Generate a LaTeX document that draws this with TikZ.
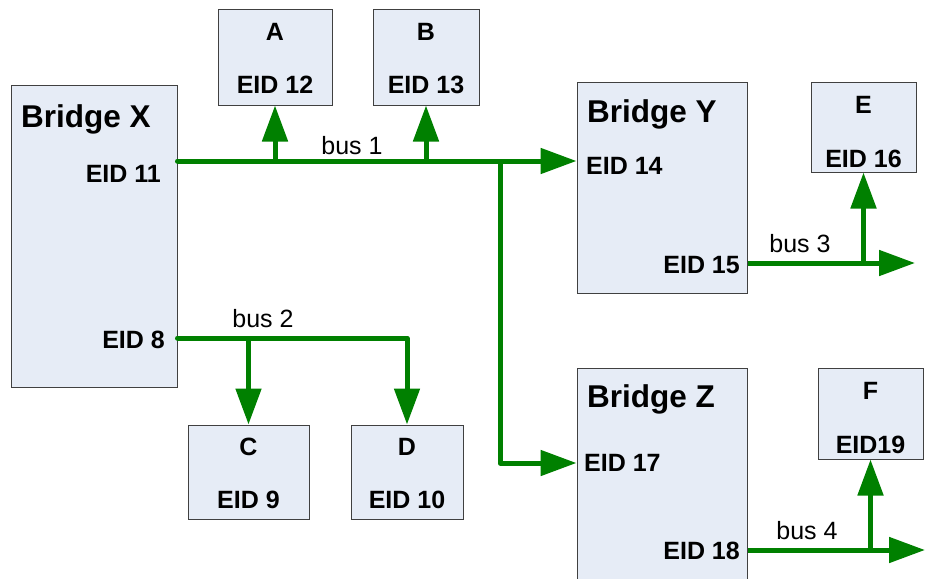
\documentclass[tikz,border=0pt]{standalone}
\usepackage{fontspec}
\setmainfont{Liberation Sans}
\usetikzlibrary{arrows.meta}
\definecolor{busgreen}{RGB}{0,128,0}
\definecolor{boxfill}{RGB}{230,236,246}
\definecolor{boxline}{RGB}{64,64,64}
\tikzset{
  box/.style={draw=boxline, fill=boxfill, line width=1pt, rectangle, inner sep=0pt},
  bus/.style={draw=busgreen, line width=5pt, line join=round},
  busarrow/.style={bus, -{Triangle[length=36pt,width=25pt]}},
  big/.style={font=\fontsize{31.5}{33}\selectfont\bfseries, inner sep=0pt},
  lbl/.style={font=\fontsize{25}{27}\selectfont\bfseries, inner sep=0pt},
  buslbl/.style={font=\fontsize{25}{27}\selectfont, inner sep=0pt}
}
\begin{document}
\begin{tikzpicture}[x=1pt,y=-1pt]
\clip (0,0) rectangle (925,578);
\fill[white] (0,0) rectangle (925,578);
% boxes
\node[box, minimum width=166pt, minimum height=302pt] (bx) at (94,236) {};
\node[box, minimum width=114pt, minimum height=95pt] (A) at (275,57.5) {};
\node[box, minimum width=106pt, minimum height=95pt] (B) at (426,57.5) {};
\node[box, minimum width=170pt, minimum height=211pt] (by) at (662,187.5) {};
\node[box, minimum width=105pt, minimum height=90pt] (E) at (863.5,127) {};
\node[box, minimum width=170pt, minimum height=232pt] (bz) at (662,484) {};
\node[box, minimum width=105pt, minimum height=91pt] (F) at (870.5,413.5) {};
\node[box, minimum width=121pt, minimum height=94pt] (C) at (248.5,472) {};
\node[box, minimum width=112pt, minimum height=94pt] (D) at (407,472) {};
% texts
\node[big, anchor=base west] (tbx) at (21,127) {Bridge X};
\node[lbl, anchor=base east] (t11) at (161,182) {EID 11};
\node[lbl, anchor=base east] (t8) at (165,348) {EID 8};
\node[lbl, anchor=base] (tA) at (275,41) {A};
\node[lbl, anchor=base] (t12) at (275,93) {EID 12};
\node[lbl, anchor=base] (tB) at (426,41) {B};
\node[lbl, anchor=base] (t13) at (426,93) {EID 13};
\node[big, anchor=base west] (tby) at (587,122) {Bridge Y};
\node[lbl, anchor=base west] (t14) at (586,174) {EID 14};
\node[lbl, anchor=base east] (t15) at (740,273) {EID 15};
\node[lbl, anchor=base] (tE) at (863.5,113) {E};
\node[lbl, anchor=base] (t16) at (863.5,167) {EID 16};
\node[big, anchor=base west] (tbz) at (587,407) {Bridge Z};
\node[lbl, anchor=base west] (t17) at (584,471) {EID 17};
\node[lbl, anchor=base east] (t18) at (740,559) {EID 18};
\node[lbl, anchor=base] (tF) at (870.5,399) {F};
\node[lbl, anchor=base] (t19) at (870.5,453) {EID19};
\node[lbl, anchor=base] (tC) at (248.5,455) {C};
\node[lbl, anchor=base] (t9) at (248.5,508) {EID 9};
\node[lbl, anchor=base] (tD) at (407,455) {D};
\node[lbl, anchor=base] (t10) at (407,508) {EID 10};
\node[buslbl, anchor=base] (bus1) at (352,154) {bus 1};
\node[buslbl, anchor=base] (bus2) at (263,327) {bus 2};
\node[buslbl, anchor=base] (bus3) at (800,252) {bus 3};
\node[buslbl, anchor=base] (bus4) at (807,539) {bus 4};
% connector points
\coordinate (p11) at (bx.east |- 0,161);
\coordinate (j1) at (500,161);
\coordinate (p17) at (bz.west |- 0,463);
\coordinate (p8) at (bx.east |- 0,338);
\coordinate (p15) at (by.east |- 0,263);
\coordinate (e3) at (915,263);
\coordinate (p18) at (bz.east |- 0,550);
\coordinate (e4) at (925,550);
% bus 1
\draw[busarrow, line cap=round] (p11) -- (by.west |- p11);
\draw[busarrow] (A.south |- p11) -- (A.south);
\draw[busarrow] (B.south |- p11) -- (B.south);
\draw[busarrow] (j1) |- (p17);
% bus 2
\draw[busarrow, line cap=round] (p8) -| (D.north);
\draw[busarrow] (C.north |- p8) -- (C.north);
% bus 3
\draw[busarrow] (p15) -- (e3);
\draw[busarrow] (E.south |- p15) -- (E.south);
% bus 4
\draw[busarrow] (p18) -- (e4);
\draw[busarrow] (F.south |- p18) -- (F.south);
\end{tikzpicture}
\end{document}
